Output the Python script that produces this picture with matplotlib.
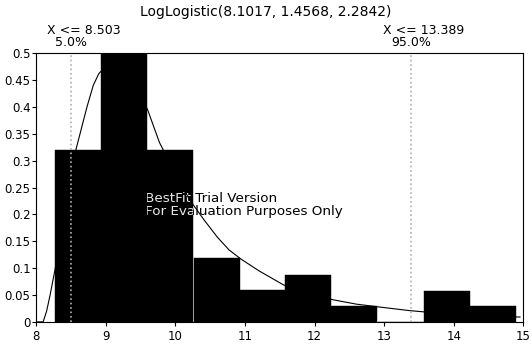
import numpy as np
import matplotlib
matplotlib.use('Agg')
import matplotlib.pyplot as plt
from matplotlib import transforms

plt.rcParams['font.family'] = ['DejaVu Sans']

# Histogram bins (left edges) and densities
bin_left = [8.27, 8.93, 9.59, 10.26, 10.92, 11.58, 12.24, 12.91, 13.57, 14.23]
bin_width = 0.662
density = [0.32, 0.55, 0.32, 0.118, 0.06, 0.088, 0.03, 0.0, 0.058, 0.03]

# Fitted LogLogistic curve
curve_x = [8.00, 8.10, 8.15, 8.20, 8.27, 8.35, 8.45, 8.56, 8.65, 8.73, 8.82, 8.90,
           9.00, 9.07, 9.15, 9.25, 9.40, 9.60, 9.77, 10.00, 10.20, 10.41, 10.60,
           10.77, 10.94, 11.20, 11.55, 11.90, 12.27, 12.60, 12.91, 13.36, 13.80,
           14.30, 14.95]
curve_y = [0.0, 0.0, 0.02, 0.05, 0.097, 0.16, 0.24, 0.315, 0.36, 0.40, 0.44, 0.462,
           0.475, 0.478, 0.476, 0.468, 0.445, 0.395, 0.334, 0.275, 0.228, 0.19, 0.158,
           0.134, 0.117, 0.095, 0.069, 0.053, 0.041, 0.033, 0.028, 0.021, 0.016,
           0.012, 0.009]

pct_x = [8.503, 13.389]
pct_val = ['X <= 8.503', 'X <= 13.389']
pct_pct = ['5.0%', '95.0%']

fig = plt.figure(figsize=(5.32, 3.45), dpi=100)
ax = fig.add_axes([0.068, 0.067, 0.916, 0.779])
ax.set_xlim(8, 15)
ax.set_ylim(0, 0.5)

# watermark: black under the bars, light over the bar it crosses
wm = 'BestFit Trial Version\nFor Evaluation Purposes Only'
ax.text(9.57, 0.218, wm, fontsize=9.7, color='black', va='center', ha='left',
        linespacing=1.0, zorder=1)
bars = ax.bar(bin_left, density, width=bin_width, align='edge', color='black',
              edgecolor='black', linewidth=0.3, zorder=2)
t2 = ax.text(9.57, 0.218, wm, fontsize=9.7, color='#e6e6e6', va='center', ha='left',
             linespacing=1.0, zorder=3, clip_on=True)
t2.set_clip_box(transforms.TransformedBbox(bars[2].get_bbox(), ax.transData))

ax.plot(curve_x, curve_y, color='black', linewidth=0.8, zorder=4)

trans = transforms.blended_transform_factory(ax.transData, ax.transAxes)
for px, v, p in zip(pct_x, pct_val, pct_pct):
    ax.axvline(px, color='#b0b0b0', linestyle=':', linewidth=1.2, zorder=5)
    ax.annotate(v, (px, 1.0), xycoords=trans, xytext=(9, 16.5),
                textcoords='offset points', ha='center', va='center', fontsize=9)
    ax.annotate(p, (px, 1.0), xycoords=trans, xytext=(0, 8),
                textcoords='offset points', ha='center', va='center', fontsize=9)

fig.text(0.5, 1 - 12 / 345, 'LogLogistic(8.1017, 1.4568, 2.2842)', ha='center',
         va='center', fontsize=10)

ax.set_xticks(np.arange(8, 16, 1))
ax.set_yticks(np.arange(0, 0.501, 0.05))
ax.set_yticklabels(['0', '0.05', '0.1', '0.15', '0.2', '0.25', '0.3', '0.35',
                    '0.4', '0.45', '0.5'])
ax.tick_params(axis='y', labelsize=8.5, length=3, pad=1)
ax.tick_params(axis='x', labelsize=8.5, length=3, pad=3)
for s in ax.spines.values():
    s.set_linewidth(0.8)

fig.savefig('out.png', dpi=100)
